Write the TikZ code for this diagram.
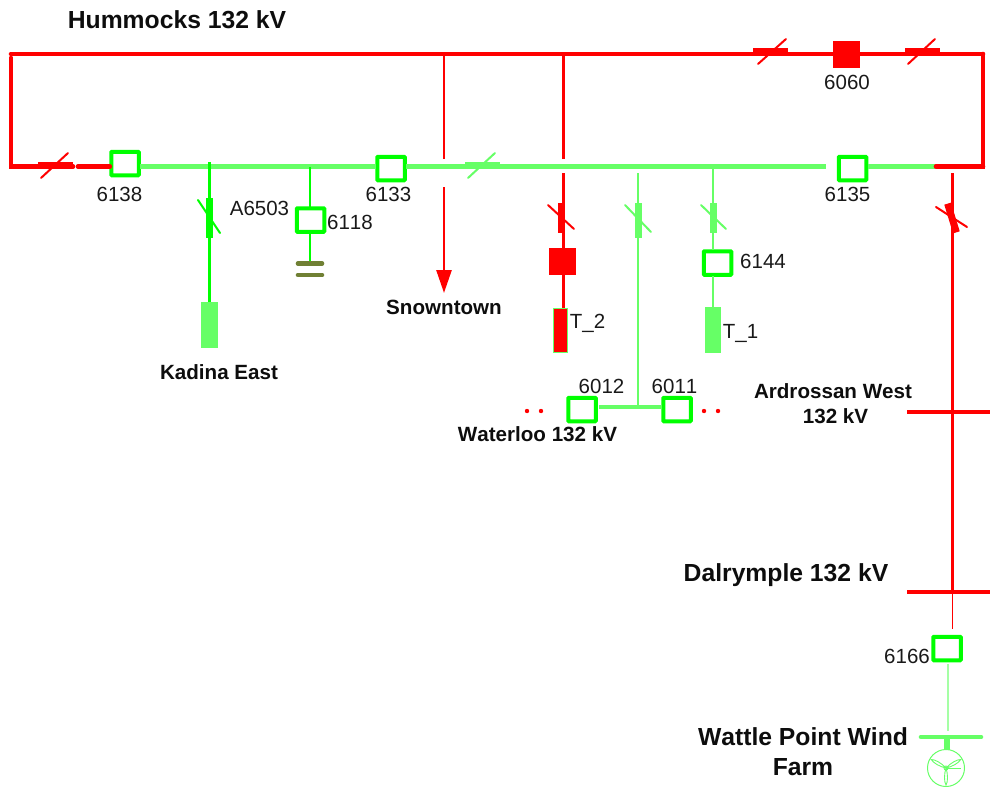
\documentclass[tikz,border=0pt]{standalone}
\usepackage{fontspec}
\setmainfont{Liberation Sans}[Kerning=Off]
\usetikzlibrary{arrows.meta}
\definecolor{energised}{RGB}{255,0,0}
\definecolor{deadline}{RGB}{102,255,102}
\definecolor{paleline}{RGB}{165,255,165}
\definecolor{breakeredge}{RGB}{0,255,0}
\definecolor{capcolor}{RGB}{112,128,52}
\tikzset{
  cbopen/.style={draw=breakeredge,line width=4pt,rounded corners=0.8pt,fill=white,minimum width=27.5pt,minimum height=23.5pt,inner sep=0pt,outer sep=1.5pt},
  cbshut/.style={fill=energised,minimum width=27pt,minimum height=27pt,inner sep=0pt},
  hbar/.style={minimum width=35pt,minimum height=6.5pt,inner sep=0pt},
  vbar/.style={minimum width=7pt,minimum height=30pt,inner sep=0pt},
  loadbox/.style={inner sep=0pt,minimum width=16.5pt,minimum height=46pt,fill=deadline},
  lbl/.style={font=\fontsize{20.5pt}{24pt}\selectfont,inner sep=0pt,text=black!90},
  namelbl/.style={font=\fontsize{20.6pt}{25pt}\selectfont\bfseries,inner sep=0pt,align=center,text=black!95},
  biglbl/.style={font=\fontsize{24.7pt}{30pt}\selectfont\bfseries,inner sep=0pt,align=center,text=black!95},
  bus/.style={line width=4.6pt,line cap=round},
  feeder/.style={line width=2.7pt},
  slash/.style={line width=2pt,line cap=round}
}
\begin{document}
\begin{tikzpicture}[x=1pt,y=-1pt]
\useasboundingbox (0,0) rectangle (990,787);
% breakers
\node[cbopen] (cb6138) at (125,163.5) {};
\node[cbopen] (cb6133) at (391,168.5) {};
\node[cbopen] (cb6135) at (852.5,168.5) {};
\node[cbopen] (cb6118) at (310.5,220) {};
\node[cbopen] (cb6144) at (717.5,263) {};
\node[cbopen] (cb6012) at (582,409.5) {};
\node[cbopen] (cb6011) at (677,409.5) {};
\node[cbopen] (cb6166) at (947,648.5) {};
\node[cbshut] (cb6060) at (846.5,54.5) {};
\node[cbshut] (cbT2) at (562.5,261.5) {};
% corners and bus ends
\coordinate (nwcorner) at (11,54);
\coordinate (westtop) at (11,58);
\coordinate (necorner) at (983,54);
\coordinate (swcorner) at (11,166.5);
\coordinate (secorner) at (983,166.5);
\coordinate (redend) at (936,166.5);
\coordinate (gapleft) at (78,166.5);
\coordinate (isoA) at (73,166.5);
\coordinate (busgap) at (826,166.5);
\coordinate (kadinatop) at (209.5,162);
\coordinate (kadinaend) at (209.5,303);
\coordinate (capAtop) at (310,166.5);
\coordinate (capplate) at (310,263);
\coordinate (snowtop) at (444,54);
\coordinate (snowcut) at (444,159);
\coordinate (snowrun) at (444,187);
\coordinate (snowtip) at (444,293);
\coordinate (ttwotop) at (563.5,54);
\coordinate (ttwocut) at (563.5,159);
\coordinate (ttworun) at (563.5,173);
\coordinate (ttwoend) at (563.5,310);
\coordinate (watertop) at (638,173);
\coordinate (waterbus) at (638,407);
\coordinate (waterleft) at (599,407);
\coordinate (tonetop) at (713,168);
\coordinate (toneend) at (713,308);
\coordinate (ardtop) at (952.5,173);
\coordinate (dalbus) at (952.5,592);
\coordinate (dalstub) at (952.5,629);
\coordinate (windtop) at (948,664);
\coordinate (windbus) at (948,731);
\coordinate (stemtop) at (947,737);
\coordinate (stemend) at (947,750);
% hummocks loop
\draw[bus,energised] (nwcorner) -- (necorner);
\draw[bus,energised] (westtop) -- (swcorner) -- (isoA);
\draw[bus,energised] (gapleft) -- (cb6138.west |- gapleft);
\draw[bus,energised] (necorner) -- (secorner) -- (redend);
% green bus
\draw[bus,deadline,line cap=butt] (cb6138.east |- swcorner) -- (cb6133.west |- swcorner);
\draw[bus,deadline,line cap=butt] (cb6133.east |- swcorner) -- (busgap);
\draw[bus,deadline,line cap=butt] (cb6135.east |- redend) -- (redend);
\draw[bus,energised] (redend) -- (secorner);
% feeders
\draw[feeder,breakeredge] (kadinatop) -- (kadinaend);
\draw[feeder,breakeredge] (capAtop) -- (capAtop |- cb6118.north);
\draw[feeder,breakeredge] (capAtop |- cb6118.south) -- (capplate);
\draw[feeder,energised,-{Triangle[length=23pt,width=15pt]}] (snowrun) -- (snowtip);
\draw[feeder,energised] (snowtop) -- (snowcut);
\draw[feeder,energised] (ttwotop) -- (ttwocut);
\draw[feeder,energised] (ttworun) -- (ttwoend);
\draw[feeder,deadline] (watertop) -- (waterbus);
\draw[bus,deadline,line cap=butt] (waterleft) -- (cb6011.west |- waterleft);
\draw[feeder,deadline] (tonetop) -- (tonetop |- cb6144.north);
\draw[feeder,deadline] (tonetop |- cb6144.south) -- (toneend);
\draw[feeder,energised] (ardtop) -- (dalbus);
\draw[line width=1.2pt,energised] (dalbus) -- (dalstub);
\draw[line width=2pt,paleline] (windtop) -- (windbus);
\draw[line width=5.5pt,deadline] (stemtop) -- (stemend);
% isolators
\node[hbar,fill=energised] (isoW) at (55.5,165.5) {};
\draw[slash,energised] (41,178) -- (68,153);
\node[hbar,fill=energised] (isoN) at (770.5,51.5) {};
\draw[slash,energised] (758,64) -- (786,39);
\node[hbar,fill=energised] (isoE) at (922.5,51.5) {};
\draw[slash,energised] (908,64) -- (935,39);
\node[hbar,fill=deadline] (isoBus) at (482.5,165) {};
\draw[slash,deadline] (468,178) -- (495,153);
\node[vbar,minimum height=40pt,fill=breakeredge] (isoKadina) at (209.5,218) {};
\draw[slash,breakeredge] (198,200) -- (220,233);
\node[vbar,fill=energised] (isoTtwo) at (561,218) {};
\draw[slash,energised] (548,205) -- (574,229);
\node[vbar,minimum height=35pt,fill=deadline] (isoWater) at (638.5,220.5) {};
\draw[slash,deadline] (625,205) -- (651,232);
\node[vbar,fill=deadline] (isoTone) at (713.5,218) {};
\draw[slash,deadline] (701,205) -- (726,229);
\node[vbar,rotate=17,fill=energised] (isoArd) at (952,218) {};
\draw[slash,energised] (936,207) -- (967,227);
% loads
\node[loadbox] (loadK) at (209.5,325) {};
\node[loadbox,fill=energised,draw=deadline,line width=1.5pt,minimum width=14pt,minimum height=44pt] (loadT2) at (560.5,330.5) {};
\node[loadbox] (loadT1) at (713,330) {};
% capacitor plates
\draw[line width=4.6pt,line cap=round,capcolor] (298,263.5) -- (322,263.5);
\draw[line width=4.6pt,line cap=round,capcolor] (298,275) -- (322,275);
% station bars
\draw[bus,energised,line cap=butt] (907,412) -- (990,412);
\draw[bus,energised,line cap=butt] (907,592) -- (990,592);
\draw[bus,deadline] (921,737) -- (981,737);
% open ends at waterloo
\fill[energised] (527,411) circle (2.2);
\fill[energised] (541,411) circle (2.2);
\fill[energised] (704,411) circle (2.2);
\fill[energised] (718,411) circle (2.2);
% turbine
\draw[deadline,line width=1pt] (946,768) circle (18.5);
\foreach \ang in {150,30,-90} {
  \draw[deadline,line width=0.9pt,rotate around={\ang:(946,768)}] (946,768) .. controls (952,766) and (960,766) .. (963,768) .. controls (960,770) and (952,770) .. (946,768);
}
\draw[deadline,line width=0.9pt] (946,768) -- (961,768);
\draw[deadline,line width=0.9pt] (946,768) circle (2);
% labels
\node[biglbl] (hummocks) at (177,20) {Hummocks 132 kV};
\node[lbl] (l6060) at (847,82) {6060};
\node[lbl] (l6138) at (119.5,194.5) {6138};
\node[lbl] (l6133) at (388.5,194.5) {6133};
\node[lbl] (l6135) at (847.5,194.5) {6135};
\node[lbl] (lA6503) at (259.5,208) {A6503};
\node[lbl] (l6118) at (350,222) {6118};
\node[lbl] (l6144) at (763,261) {6144};
\node[lbl] (lT2) at (587.5,323.5) {T\_2};
\node[lbl] (lT1) at (740.5,333) {T\_1};
\node[lbl] (l6012) at (601.5,386) {6012};
\node[lbl] (l6011) at (674.5,386) {6011};
\node[lbl] (l6166) at (907,656) {6166};
\node[namelbl] (snowtown) at (444,307) {Snowntown};
\node[namelbl] (kadina) at (219,372) {Kadina East};
\node[namelbl] (waterloo) at (537.5,434.5) {Waterloo 132 kV};
\node[namelbl] (ardrossan) at (833,404) {Ardrossan West\\\hspace*{5pt}132 kV};
\node[biglbl] (dalrymple) at (786,575) {Dalrymple 132 kV};
\node[biglbl] (wattle) at (803,752) {Wattle Point Wind\\Farm};
\end{tikzpicture}
\end{document}
